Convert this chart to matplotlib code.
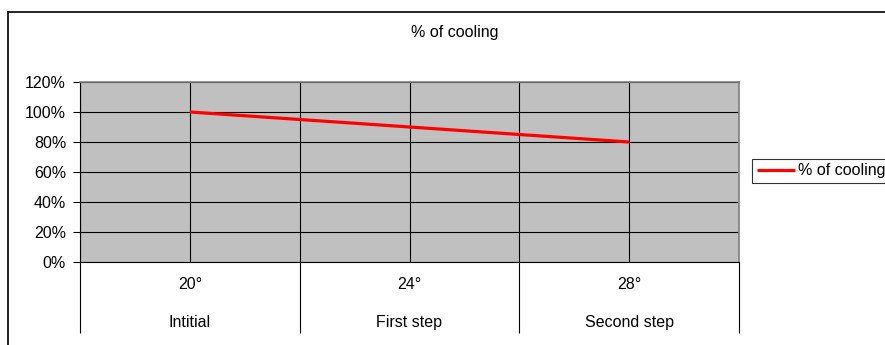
import matplotlib.pyplot as plt
from matplotlib.lines import Line2D
from matplotlib.ticker import FuncFormatter

plt.rcParams['font.family'] = ['Liberation Sans', 'DejaVu Sans']

temps = ['20°', '24°', '28°']
steps = ['Intitial', 'First step', 'Second step']
cooling = [1.00, 0.90, 0.80]

W, H = 885, 345
FS = 11.5
fig = plt.figure(figsize=(W / 100, H / 100), dpi=100)

# plot area in pixel coords: left 80, right 739, top 82, bottom 262
ax = fig.add_axes([80 / W, 1 - 262 / H, (739 - 80) / W, (262 - 82) / H])
ax.set_facecolor('#c0c0c0')

centers = [i + 0.5 for i in range(len(temps))]
ax.plot(centers, cooling, color='red', lw=2.3, solid_capstyle='butt', zorder=3,
        label='% of cooling')

ax.set_xlim(0, len(temps))
ax.set_ylim(0, 1.2)
ax.set_yticks([0, 0.2, 0.4, 0.6, 0.8, 1.0, 1.2])
ax.yaxis.set_major_formatter(FuncFormatter(lambda v, p: f'{v * 100:.0f}%'))
ax.grid(axis='y', color='black', lw=0.8)

# vertical gridlines at category centres and boundaries
for x in centers + list(range(len(temps) + 1)):
    ax.axvline(x, color='black', lw=0.8, zorder=1)

# two-level category axis
ax.set_xticks(centers)
ax.set_xticklabels(temps)
ax.set_xticks(range(len(temps) + 1), minor=True)
ax.tick_params(axis='x', which='major', length=0, pad=11, labelsize=FS)
ax.tick_params(axis='x', which='minor', length=51, width=0.8, color='black')
ax.tick_params(axis='y', length=5, width=0.8, labelsize=FS, pad=5)
for c, s in zip(centers, steps):
    ax.text(c, -0.335, s, ha='center', va='center', fontsize=FS,
            transform=ax.get_xaxis_transform())

for side in ['top', 'right']:
    ax.spines[side].set_color('#808080')
    ax.spines[side].set_linewidth(1.2)
for side in ['left', 'bottom']:
    ax.spines[side].set_color('black')
    ax.spines[side].set_linewidth(0.8)

fig.text(455 / W, 1 - 33 / H, '% of cooling', ha='center', va='center', fontsize=FS)

# chart outline (runs off the right and bottom edges)
fig.add_artist(Line2D([8 / W, 8 / W], [0, 1 - 12 / H], color='black', lw=1.2,
                      transform=fig.transFigure))
fig.add_artist(Line2D([8 / W, 1], [1 - 12 / H, 1 - 12 / H], color='black', lw=1.2,
                      transform=fig.transFigure))

leg = fig.legend(loc='center left', bbox_to_anchor=(752 / W, 1 - 171 / H),
                 fontsize=FS, frameon=True, fancybox=False, edgecolor='black',
                 handlelength=2.4, handletextpad=0.2, borderpad=0.3,
                 borderaxespad=0)
leg.get_frame().set_linewidth(0.8)

fig.savefig('out.png', dpi=100)
